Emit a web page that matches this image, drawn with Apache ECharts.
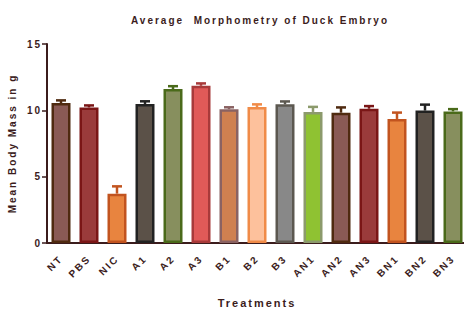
<!DOCTYPE html>
<html><head><meta charset="utf-8">
<script src="https://cdn.jsdelivr.net/npm/echarts@6/dist/echarts.min.js"></script>
<style>html,body{margin:0;padding:0;background:#fff}#c{width:464px;height:309px}#c text{letter-spacing:2px}</style>
</head><body><div id="c"></div>
<script>
var categories = ['NT','PBS','NIC','A1','A2','A3','B1','B2','B3','AN1','AN2','AN3','BN1','BN2','BN3'];
var means = [10.55, 10.22, 3.72, 10.48, 11.6, 11.85, 10.08, 10.25, 10.45, 9.88, 9.82, 10.12, 9.35, 9.98, 9.92];
var errors = [0.2, 0.15, 0.55, 0.2, 0.22, 0.18, 0.15, 0.2, 0.22, 0.38, 0.4, 0.2, 0.48, 0.45, 0.17];
var yTicks = [0, 5, 10, 15];
var fills = ['#8a5a55','#9a3b3b','#e8843f','#5b5148','#878f5e','#e05a58','#cf8050','#fdc19c','#888888','#8fc232','#8a5a55','#9a3b3b','#e8843f','#5b5148','#878f5e'];
var borders = ['#4f2a10','#7a1616','#c2541f','#222222','#4a6a1a','#a83a3a','#8a6262','#f08b48','#5c5850','#8c9a6c','#4f2a10','#7a1616','#c2541f','#222222','#4a6a1a'];

var txt = '#3b1c1c';
var chart = echarts.init(document.getElementById('c'), null, {renderer: 'svg'});
chart.setOption({
  animation: false,
  title: {
    text: 'Average  Morphometry of Duck Embryo',
    left: 255, top: 10, textAlign: 'center',
    textStyle: {fontFamily: 'Liberation Sans', fontSize: 10, fontWeight: 'bold', color: txt}
  },
  grid: {left: 47, right: -3, top: 44, bottom: 66, outerBoundsMode: 'none', containLabel: false},
  xAxis: {
    type: 'category', data: categories,
    name: 'Treatments', nameLocation: 'middle', nameGap: 54,
    nameTextStyle: {fontFamily: 'Liberation Sans', fontSize: 11, fontWeight: 'bold', color: txt},
    axisLine: {lineStyle: {color: txt, width: 2}},
    axisTick: {alignWithLabel: true, interval: 0, length: 5, lineStyle: {color: txt, width: 1.5}},
    axisLabel: {interval: 0, rotate: 45, margin: 14, fontFamily: 'Liberation Sans', fontSize: 10, fontWeight: 'bold', color: txt}
  },
  yAxis: {
    type: 'value', min: yTicks[0], max: yTicks[yTicks.length-1], interval: 5,
    name: 'Mean Body Mass in g', nameLocation: 'middle', nameGap: 30, nameRotate: 90,
    nameTextStyle: {fontFamily: 'Liberation Sans', fontSize: 10, fontWeight: 'bold', color: txt},
    axisLine: {show: true, lineStyle: {color: txt, width: 2}},
    axisTick: {show: true, length: 5, lineStyle: {color: txt, width: 1.5}},
    splitLine: {show: false},
    axisLabel: {margin: 5, fontFamily: 'Liberation Sans', fontSize: 10, fontWeight: 'bold', color: txt}
  },
  series: [{
    type: 'bar', barWidth: 19,
    data: means.map(function(v, i){ return {value: v, itemStyle: {color: fills[i], borderColor: borders[i], borderWidth: 2.5}}; })
  }, {
    type: 'custom', z: 1,
    data: means.map(function(v, i){ return [i, v, errors[i]]; }),
    renderItem: function(params, api){
      var i = api.value(0), m = api.value(1), e = api.value(2);
      var p0 = api.coord([i, m]);
      var p1 = api.coord([i, m + e]);
      var c = borders[i];
      return {type: 'group', children: [
        {type: 'line', shape: {x1: p0[0], y1: p0[1], x2: p1[0], y2: p1[1]}, style: {stroke: c, lineWidth: 2.5}},
        {type: 'line', shape: {x1: p1[0]-5, y1: p1[1], x2: p1[0]+5, y2: p1[1]}, style: {stroke: c, lineWidth: 2.5}}
      ]};
    }
  }]
});
</script></body></html>
